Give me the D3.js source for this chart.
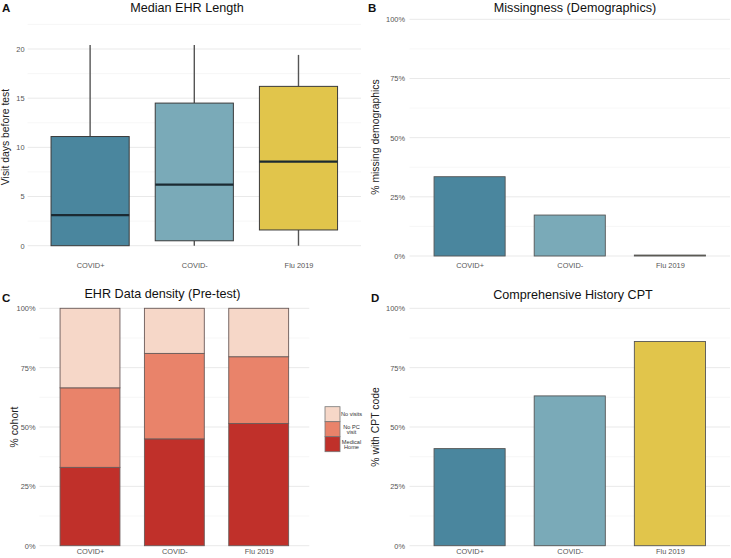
<!DOCTYPE html>
<html>
<head>
<meta charset="utf-8">
<script src="https://cdn.jsdelivr.net/npm/d3@7"></script>
<style>
  html, body { margin: 0; padding: 0; background: #fff; }
  svg { display: block; font-family: "Liberation Sans", Arial, sans-serif; }
</style>
</head>
<body>
<svg id="chart" width="731" height="558"></svg>
<script>
// ---------- data ----------
const categories = ["COVID+", "COVID-", "Flu 2019"];
const cohortColors = ["#4a869e", "#7aaab8", "#e1c54b"];

// Panel A: box plot of visit days before test
const ehrWhiskerLow  = [0, 0, 0];
const ehrQ1          = [0, 0.5, 1.6];
const ehrMedian      = [3.1, 6.2, 8.55];
const ehrQ3          = [11.1, 14.5, 16.2];
const ehrWhiskerHigh = [20.4, 20.4, 19.4];
const ehrTicks       = [0, 5, 10, 15, 20];
const ehrMinorTicks  = [2.5, 7.5, 12.5, 17.5, 22.5];

// Panel B: missing demographics
const missingDemographics = [0.335, 0.173, 0.004];

// Panel C: EHR data density (stacked)
const densityGroups  = ["Medical Home", "No PC visit", "No visits"];
const densityLegend  = [["No visits"], ["No PC", "visit"], ["Medical", "Home"]];
const densityColors  = ["#c0302a", "#e9836a", "#f6d7c8"];
const densityMedicalHome = [0.33, 0.45, 0.515];
const densityNoPCVisit   = [0.335, 0.36, 0.281];
const densityNoVisits    = [0.335, 0.19, 0.204];

// Panel D: comprehensive history CPT
const cptShare = [0.409, 0.631, 0.86];

const pctTicks      = [0, 0.25, 0.5, 0.75, 1];
const pctMinorTicks = [0.125, 0.375, 0.625, 0.875];

// ---------- helpers ----------
const svg = d3.select("#chart");
const fmtPct = d3.format(".0%");
const TICK_COLOR = "#555";

function grid(g, y, x0, x1, major, minor) {
  g.selectAll("line.minor").data(minor).join("line")
    .attr("x1", x0).attr("x2", x1)
    .attr("y1", d => y(d)).attr("y2", d => y(d))
    .attr("stroke", "#f3f3f3").attr("stroke-width", 0.7);
  g.selectAll("line.major").data(major).join("line")
    .attr("x1", x0).attr("x2", x1)
    .attr("y1", d => y(d)).attr("y2", d => y(d))
    .attr("stroke", "#e9e9e9").attr("stroke-width", 1);
}

function yAxis(g, y, ticks, fmt, xRight) {
  const ax = d3.axisLeft(y).tickValues(ticks).tickFormat(fmt).tickSize(0).tickPadding(0);
  g.attr("transform", `translate(${xRight},0)`).call(ax);
  g.select(".domain").remove();
  g.selectAll("text").attr("fill", TICK_COLOR).attr("font-size", 7.4)
    .attr("font-family", "Liberation Sans, Arial, sans-serif");
}

function xAxis(g, x, yPos) {
  const ax = d3.axisBottom(x).tickSize(0).tickPadding(0);
  g.attr("transform", `translate(0,${yPos})`).call(ax);
  g.select(".domain").remove();
  g.selectAll("text").attr("fill", TICK_COLOR).attr("font-size", 7.4).attr("dy", "0.35em")
    .attr("font-family", "Liberation Sans, Arial, sans-serif");
}

function titles(tag, tagX, tagY, title, tx, ty, ytitle, yx, yy) {
  svg.append("text").attr("x", tagX).attr("y", tagY).text(tag)
    .attr("font-size", 11.5).attr("font-weight", "bold").attr("fill", "#111");
  svg.append("text").attr("x", tx).attr("y", ty).text(title)
    .attr("text-anchor", "middle").attr("font-size", 12.6).attr("fill", "#111");
  svg.append("text").attr("transform", `translate(${yx},${yy}) rotate(-90)`).text(ytitle)
    .attr("text-anchor", "middle").attr("dy", "0.35em").attr("font-size", 10.4).attr("fill", "#222");
}

// ---------- Panel A ----------
{
  const x = d3.scalePoint().domain(categories).range([27.6, 361]).padding(0.6);
  const y = d3.scaleLinear().domain([0, 20]).range([245.7, 49]);
  const bw = x.step() * 0.75;
  grid(svg.append("g"), y, 27.6, 361, ehrTicks, ehrMinorTicks);
  yAxis(svg.append("g"), y, ehrTicks, d3.format("d"), 24.5);
  xAxis(svg.append("g"), x, 265.7);
  const g = svg.append("g");
  categories.forEach((c, i) => {
    const cx = x(c);
    g.append("line").attr("x1", cx).attr("x2", cx)
      .attr("y1", y(ehrQ3[i])).attr("y2", y(ehrWhiskerHigh[i]))
      .attr("stroke", "#555").attr("stroke-width", 1.4);
    g.append("line").attr("x1", cx).attr("x2", cx)
      .attr("y1", y(ehrWhiskerLow[i])).attr("y2", y(ehrQ1[i]))
      .attr("stroke", "#555").attr("stroke-width", 1.4);
    g.append("rect").attr("x", cx - bw / 2).attr("width", bw)
      .attr("y", y(ehrQ3[i])).attr("height", y(ehrQ1[i]) - y(ehrQ3[i]))
      .attr("fill", cohortColors[i]).attr("stroke", "#3a3a3a").attr("stroke-width", 1);
    g.append("line").attr("x1", cx - bw / 2).attr("x2", cx + bw / 2)
      .attr("y1", y(ehrMedian[i])).attr("y2", y(ehrMedian[i]))
      .attr("stroke", "#1b2a32").attr("stroke-width", 2.2);
  });
  titles("A", 2, 12, "Median EHR Length", 187, 12, "Visit days before test", 5.5, 137);
}

// ---------- Panel B ----------
{
  const x = d3.scalePoint().domain(categories).range([409.5, 730]).padding(0.6);
  const y = d3.scaleLinear().domain([0, 1]).range([256, 19.3]);
  const bw = x.step() * 0.71;
  grid(svg.append("g"), y, 409.5, 730, pctTicks, pctMinorTicks);
  yAxis(svg.append("g"), y, pctTicks, fmtPct, 405);
  xAxis(svg.append("g"), x, 265.3);
  svg.append("g").selectAll("rect").data(categories).join("rect")
    .attr("x", d => x(d) - bw / 2).attr("width", bw)
    .attr("y", (d, i) => y(missingDemographics[i]))
    .attr("height", (d, i) => y(0) - y(missingDemographics[i]))
    .attr("fill", (d, i) => cohortColors[i]).attr("stroke", "#555").attr("stroke-width", 0.9);
  titles("B", 368, 12, "Missingness (Demographics)", 575, 12, "% missing demographics", 375.5, 137);
}

// ---------- Panel C ----------
{
  const x = d3.scalePoint().domain(categories).range([39.4, 309.3]).padding(0.6);
  const y = d3.scaleLinear().domain([0, 1]).range([545.7, 308.3]);
  const bw = x.step() * 0.71;
  grid(svg.append("g"), y, 39.4, 309.3, pctTicks, pctMinorTicks);
  yAxis(svg.append("g"), y, pctTicks, fmtPct, 35.5);
  xAxis(svg.append("g"), x, 551.7);
  const rows = categories.map((c, i) => ({
    cat: c,
    "Medical Home": densityMedicalHome[i],
    "No PC visit": densityNoPCVisit[i],
    "No visits": densityNoVisits[i]
  }));
  const stacked = d3.stack().keys(densityGroups)(rows);
  svg.append("g").selectAll("g").data(stacked).join("g")
    .attr("fill", (d, i) => densityColors[i])
    .selectAll("rect").data(d => d).join("rect")
    .attr("x", d => x(d.data.cat) - bw / 2).attr("width", bw)
    .attr("y", d => y(d[1])).attr("height", d => y(d[0]) - y(d[1]))
    .attr("stroke", "#6a5a58").attr("stroke-width", 0.9);
  // legend (top to bottom: No visits, No PC visit, Medical Home)
  const lg = svg.append("g");
  const legendColors = densityColors.slice().reverse();
  densityLegend.forEach((lines, i) => {
    const ky = 406.7 + i * 15;
    lg.append("rect").attr("x", 325).attr("y", ky).attr("width", 15).attr("height", 15)
      .attr("fill", legendColors[i]).attr("stroke", "#777").attr("stroke-width", 0.8);
    const t = lg.append("text").attr("x", 351.5).attr("text-anchor", "middle")
      .attr("font-size", 5.6).attr("fill", "#333");
    const y0 = ky + 7.5 - (lines.length - 1) * 2.6;
    lines.forEach((ln, j) => {
      t.append("tspan").attr("x", 351.5).attr("y", y0 + j * 5.3).attr("dy", "0.35em").text(ln);
    });
  });
  titles("C", 2, 302, "EHR Data density (Pre-test)", 162.5, 298, "% cohort", 14, 427);
}

// ---------- Panel D ----------
{
  const x = d3.scalePoint().domain(categories).range([409.5, 730]).padding(0.6);
  const y = d3.scaleLinear().domain([0, 1]).range([545.7, 308.3]);
  const bw = x.step() * 0.71;
  grid(svg.append("g"), y, 409.5, 730, pctTicks, pctMinorTicks);
  yAxis(svg.append("g"), y, pctTicks, fmtPct, 405);
  xAxis(svg.append("g"), x, 551.7);
  svg.append("g").selectAll("rect").data(categories).join("rect")
    .attr("x", d => x(d) - bw / 2).attr("width", bw)
    .attr("y", (d, i) => y(cptShare[i]))
    .attr("height", (d, i) => y(0) - y(cptShare[i]))
    .attr("fill", (d, i) => cohortColors[i]).attr("stroke", "#555").attr("stroke-width", 0.9);
  titles("D", 371, 302, "Comprehensive History CPT", 573, 299, "% with CPT code", 375.5, 427);
}
</script>
</body>
</html>
